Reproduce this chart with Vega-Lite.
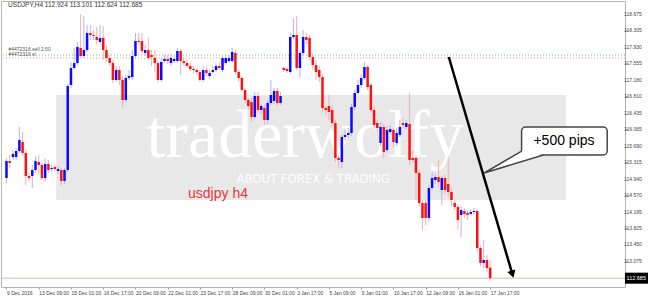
{
"$schema":"https://vega.github.io/schema/vega-lite/v6.json",
"width":624,"height":286,"autosize":"none",
"padding":{"left":1,"top":1,"right":23,"bottom":9},
"background":"white",
"config":{"view":{"stroke":"#b4b4b4","strokeWidth":1},"axis":{"grid":false,"labelOverlap":false}},
"datasets":{
"ylab":[{"p":118.675},{"p":118.305},{"p":117.93},{"p":117.555},{"p":117.18},{"p":116.81},{"p":116.435},{"p":116.065},{"p":115.69},{"p":115.315},{"p":114.94},{"p":114.57},{"p":114.195},{"p":113.825},{"p":113.45},{"p":113.075}],
"c":[
{"i":0,"o":114.957,"h":115.41,"l":114.843,"c":115.341},
{"i":1,"o":115.341,"h":115.478,"l":115.183,"c":115.296},
{"i":2,"o":115.432,"h":115.591,"l":115.364,"c":115.5},
{"i":3,"o":115.432,"h":115.636,"l":115.364,"c":115.568},
{"i":4,"o":115.568,"h":116.113,"l":115.523,"c":115.818},
{"i":5,"o":115.772,"h":115.999,"l":115.455,"c":115.523},
{"i":6,"o":115.523,"h":115.591,"l":114.798,"c":115.002},
{"i":7,"o":115.002,"h":115.092,"l":114.866,"c":114.957},
{"i":8,"o":115.002,"h":115.251,"l":114.73,"c":115.138},
{"i":9,"o":115.138,"h":115.455,"l":115.07,"c":115.341},
{"i":10,"o":115.319,"h":115.478,"l":115.024,"c":115.251},
{"i":11,"o":115.251,"h":115.319,"l":114.911,"c":114.957},
{"i":12,"o":114.957,"h":115.41,"l":114.866,"c":115.274},
{"i":13,"o":115.274,"h":115.364,"l":115.07,"c":115.138},
{"i":14,"o":115.16,"h":115.251,"l":115.092,"c":115.183},
{"i":15,"o":115.206,"h":115.251,"l":115.115,"c":115.16},
{"i":16,"o":115.115,"h":115.228,"l":115.047,"c":115.16},
{"i":17,"o":115.138,"h":115.183,"l":114.775,"c":114.888},
{"i":18,"o":114.888,"h":115.183,"l":114.82,"c":115.138},
{"i":19,"o":115.138,"h":117.088,"l":115.092,"c":117.042},
{"i":20,"o":117.065,"h":117.587,"l":116.997,"c":117.451},
{"i":21,"o":117.451,"h":117.904,"l":117.405,"c":117.564},
{"i":22,"o":117.564,"h":118.04,"l":117.519,"c":117.927},
{"i":23,"o":117.904,"h":118.675,"l":117.677,"c":117.723},
{"i":24,"o":117.723,"h":118.63,"l":117.677,"c":117.859},
{"i":25,"o":117.859,"h":118.426,"l":117.813,"c":118.244},
{"i":26,"o":118.244,"h":118.426,"l":118.085,"c":118.199},
{"i":27,"o":118.199,"h":118.312,"l":118.085,"c":118.176},
{"i":28,"o":118.154,"h":118.38,"l":117.972,"c":118.085},
{"i":29,"o":118.04,"h":118.426,"l":117.995,"c":118.131},
{"i":30,"o":118.131,"h":118.403,"l":117.632,"c":117.859},
{"i":31,"o":117.859,"h":117.972,"l":117.587,"c":117.677},
{"i":32,"o":117.677,"h":117.745,"l":117.496,"c":117.564},
{"i":33,"o":117.564,"h":117.632,"l":117.11,"c":117.178},
{"i":34,"o":117.178,"h":117.496,"l":117.133,"c":117.405},
{"i":35,"o":117.405,"h":117.496,"l":117.065,"c":117.178},
{"i":36,"o":117.178,"h":117.269,"l":116.543,"c":116.725},
{"i":37,"o":116.725,"h":117.292,"l":116.68,"c":117.224},
{"i":38,"o":117.224,"h":117.405,"l":117.178,"c":117.269},
{"i":39,"o":117.246,"h":117.859,"l":117.178,"c":117.723},
{"i":40,"o":117.723,"h":118.244,"l":117.677,"c":118.063},
{"i":41,"o":118.063,"h":118.244,"l":117.972,"c":118.04},
{"i":42,"o":118.063,"h":118.244,"l":117.791,"c":117.836},
{"i":43,"o":117.791,"h":117.972,"l":117.723,"c":117.859},
{"i":44,"o":117.859,"h":118.131,"l":117.632,"c":117.677},
{"i":45,"o":117.745,"h":117.859,"l":117.496,"c":117.7},
{"i":46,"o":117.677,"h":117.859,"l":117.36,"c":117.564},
{"i":47,"o":117.564,"h":117.632,"l":117.133,"c":117.178},
{"i":48,"o":117.178,"h":117.677,"l":117.133,"c":117.587},
{"i":49,"o":117.609,"h":117.745,"l":117.564,"c":117.655},
{"i":50,"o":117.655,"h":117.745,"l":117.541,"c":117.609},
{"i":51,"o":117.564,"h":117.768,"l":117.496,"c":117.677},
{"i":52,"o":117.609,"h":117.723,"l":117.564,"c":117.655},
{"i":53,"o":117.609,"h":117.904,"l":117.564,"c":117.836},
{"i":54,"o":117.836,"h":117.881,"l":117.292,"c":117.609},
{"i":55,"o":117.609,"h":117.677,"l":117.496,"c":117.564},
{"i":56,"o":117.564,"h":117.632,"l":117.451,"c":117.496},
{"i":57,"o":117.496,"h":117.564,"l":117.383,"c":117.428},
{"i":58,"o":117.428,"h":117.496,"l":117.337,"c":117.405},
{"i":59,"o":117.405,"h":117.451,"l":117.292,"c":117.36},
{"i":60,"o":117.36,"h":117.405,"l":117.133,"c":117.178},
{"i":61,"o":117.178,"h":117.496,"l":117.133,"c":117.405},
{"i":62,"o":117.405,"h":117.496,"l":117.269,"c":117.337},
{"i":63,"o":117.269,"h":117.405,"l":117.201,"c":117.337},
{"i":64,"o":117.36,"h":117.496,"l":117.314,"c":117.405},
{"i":65,"o":117.405,"h":117.564,"l":117.36,"c":117.496},
{"i":66,"o":117.496,"h":117.587,"l":117.405,"c":117.451},
{"i":67,"o":117.405,"h":117.723,"l":117.36,"c":117.677},
{"i":68,"o":117.564,"h":117.745,"l":117.519,"c":117.677},
{"i":69,"o":117.609,"h":117.745,"l":117.564,"c":117.677},
{"i":70,"o":117.609,"h":117.904,"l":117.564,"c":117.813},
{"i":71,"o":117.791,"h":117.859,"l":117.314,"c":117.36},
{"i":72,"o":117.36,"h":117.405,"l":117.133,"c":117.224},
{"i":73,"o":117.224,"h":117.269,"l":116.906,"c":116.952},
{"i":74,"o":116.952,"h":116.997,"l":116.657,"c":116.725},
{"i":75,"o":116.725,"h":116.77,"l":116.498,"c":116.589},
{"i":76,"o":116.68,"h":116.77,"l":116.226,"c":116.339},
{"i":77,"o":116.339,"h":116.906,"l":116.294,"c":116.816},
{"i":78,"o":116.816,"h":116.906,"l":116.43,"c":116.498},
{"i":79,"o":116.498,"h":116.634,"l":116.407,"c":116.589},
{"i":80,"o":116.543,"h":116.634,"l":116.158,"c":116.271},
{"i":81,"o":116.271,"h":116.725,"l":116.181,"c":116.657},
{"i":82,"o":116.657,"h":117.178,"l":116.612,"c":116.838},
{"i":83,"o":116.702,"h":116.997,"l":116.634,"c":116.929},
{"i":84,"o":116.929,"h":116.997,"l":116.589,"c":116.657},
{"i":85,"o":116.657,"h":116.906,"l":116.612,"c":116.816},
{"i":86,"o":117.451,"h":117.496,"l":117.36,"c":117.405},
{"i":87,"o":117.428,"h":117.473,"l":117.337,"c":117.383},
{"i":88,"o":117.36,"h":118.244,"l":117.314,"c":118.154},
{"i":89,"o":118.154,"h":118.584,"l":118.108,"c":118.199},
{"i":90,"o":118.199,"h":118.63,"l":117.405,"c":117.451},
{"i":91,"o":117.451,"h":117.859,"l":117.224,"c":117.791},
{"i":92,"o":117.791,"h":118.312,"l":117.723,"c":118.154},
{"i":93,"o":118.154,"h":118.244,"l":117.995,"c":118.085},
{"i":94,"o":118.131,"h":118.199,"l":117.632,"c":117.7},
{"i":95,"o":117.7,"h":117.768,"l":117.405,"c":117.519},
{"i":96,"o":117.519,"h":117.632,"l":117.178,"c":117.36},
{"i":97,"o":117.405,"h":117.496,"l":117.133,"c":117.246},
{"i":98,"o":117.246,"h":117.314,"l":116.453,"c":116.543},
{"i":99,"o":116.543,"h":116.589,"l":116.385,"c":116.498},
{"i":100,"o":116.589,"h":116.838,"l":116.271,"c":116.453},
{"i":101,"o":116.498,"h":116.612,"l":116.135,"c":116.203},
{"i":102,"o":116.203,"h":116.271,"l":115.319,"c":115.41},
{"i":103,"o":115.41,"h":115.478,"l":115.183,"c":115.364},
{"i":104,"o":115.319,"h":115.931,"l":115.183,"c":115.886},
{"i":105,"o":115.886,"h":116.045,"l":115.818,"c":115.931},
{"i":106,"o":115.931,"h":116.09,"l":115.863,"c":115.977},
{"i":107,"o":115.977,"h":116.634,"l":115.908,"c":116.566},
{"i":108,"o":116.566,"h":116.952,"l":116.498,"c":116.884},
{"i":109,"o":116.884,"h":117.178,"l":116.838,"c":117.065},
{"i":110,"o":117.065,"h":117.314,"l":116.997,"c":117.224},
{"i":111,"o":117.224,"h":117.587,"l":117.178,"c":117.473},
{"i":112,"o":117.473,"h":117.519,"l":116.952,"c":117.02},
{"i":113,"o":117.065,"h":117.11,"l":116.43,"c":116.498},
{"i":114,"o":116.498,"h":116.589,"l":116.09,"c":116.158},
{"i":115,"o":116.203,"h":116.271,"l":115.999,"c":116.09},
{"i":116,"o":115.75,"h":116.226,"l":115.682,"c":116.113},
{"i":117,"o":116.113,"h":116.181,"l":115.41,"c":115.546},
{"i":118,"o":115.591,"h":116.135,"l":115.523,"c":116.045},
{"i":119,"o":115.999,"h":116.158,"l":115.954,"c":116.067},
{"i":120,"o":116.045,"h":116.09,"l":115.659,"c":115.772},
{"i":121,"o":115.75,"h":116.09,"l":115.682,"c":115.977},
{"i":122,"o":115.931,"h":116.271,"l":115.886,"c":116.113},
{"i":123,"o":116.203,"h":116.317,"l":116.09,"c":116.158},
{"i":124,"o":116.113,"h":116.271,"l":116.067,"c":116.203},
{"i":125,"o":116.181,"h":116.884,"l":115.251,"c":115.364},
{"i":126,"o":115.41,"h":115.591,"l":115.296,"c":115.364},
{"i":127,"o":115.41,"h":115.478,"l":114.457,"c":115.07},
{"i":128,"o":115.07,"h":115.138,"l":114.321,"c":114.389},
{"i":129,"o":114.389,"h":114.457,"l":113.777,"c":114.049},
{"i":130,"o":114.389,"h":114.457,"l":113.891,"c":114.049},
{"i":131,"o":114.049,"h":114.798,"l":113.959,"c":114.73},
{"i":132,"o":114.73,"h":115.092,"l":114.684,"c":114.957},
{"i":133,"o":114.911,"h":115.047,"l":114.82,"c":114.979},
{"i":134,"o":114.979,"h":115.364,"l":114.73,"c":114.866},
{"i":135,"o":114.684,"h":115.002,"l":114.344,"c":114.957},
{"i":136,"o":114.957,"h":115.024,"l":114.593,"c":114.684},
{"i":137,"o":114.82,"h":115.432,"l":114.548,"c":114.639},
{"i":138,"o":114.639,"h":114.73,"l":114.344,"c":114.457},
{"i":139,"o":114.389,"h":114.457,"l":114.231,"c":114.299},
{"i":140,"o":114.299,"h":114.367,"l":113.777,"c":114.004},
{"i":141,"o":114.117,"h":114.321,"l":113.618,"c":114.231},
{"i":142,"o":114.208,"h":114.276,"l":114.049,"c":114.14},
{"i":143,"o":114.163,"h":114.231,"l":114.004,"c":114.117},
{"i":144,"o":114.14,"h":114.253,"l":114.095,"c":114.185},
{"i":145,"o":114.185,"h":114.276,"l":114.14,"c":114.208},
{"i":146,"o":114.208,"h":114.253,"l":113.278,"c":113.369},
{"i":147,"o":113.369,"h":113.437,"l":112.961,"c":113.029},
{"i":148,"o":113.029,"h":113.55,"l":112.915,"c":113.097},
{"i":149,"o":113.097,"h":113.21,"l":112.825,"c":112.915},
{"i":150,"o":112.924,"h":113.101,"l":112.624,"c":112.685}
]},
"layer":[
{"data":{"values":[{"x1":15.41,"x2":173.5,"y1":116.838,"y2":114.457}]},
 "mark":{"type":"rect","fill":"#e8e8e8"},
 "encoding":{"x":{"field":"x1","type":"quantitative","title":null,"scale":{"domain":[-0.15,190.27],"nice":false,"zero":false}},"x2":{"field":"x2"},
  "y":{"field":"y1","type":"quantitative","title":null,"scale":{"domain":[112.485,118.97],"nice":false,"zero":false}},"y2":{"field":"y2"}}},
{"data":{"values":[{"i":92.6,"p":115.432,"t":"traderwolfy"}]},
 "mark":{"type":"text","font":"Liberation Serif","fontSize":68,"color":"#ffffff","align":"center","baseline":"alphabetic"},
 "encoding":{"x":{"field":"i","type":"quantitative","title":null},"y":{"field":"p","type":"quantitative","title":null},"text":{"field":"t"}}},
{"data":{"values":[{"i":95.1,"p":114.84,"t":"ABOUT FOREX & TRADING"}]},
 "mark":{"type":"text","font":"'Liberation Sans Narrow', 'DejaVu Sans Condensed', sans-serif","fontSize":13,"color":"#ffffff","align":"center","baseline":"alphabetic"},
 "encoding":{"x":{"field":"i","type":"quantitative","title":null},"y":{"field":"p","type":"quantitative","title":null},"text":{"field":"t"}}},
{"data":{"values":[{"i":56.3,"p":114.5,"t":"usdjpy h4"}]},
 "mark":{"type":"text","font":"Liberation Sans","fontSize":14,"color":"#e8353a","align":"left","baseline":"alphabetic"},
 "encoding":{"x":{"field":"i","type":"quantitative","title":null},"y":{"field":"p","type":"quantitative","title":null},"text":{"field":"t"}}},
{"data":{"values":[{"p":117.745,"k":"sell"},{"p":117.677,"k":"sl"}]},
 "mark":{"type":"rule","strokeDash":[1,2],"strokeWidth":1},
 "encoding":{"y":{"field":"p","type":"quantitative","title":null},"color":{"condition":{"test":"datum.k=='sell'","value":"#7fbf7f"},"value":"#e89a9a"}}},
{"data":{"values":[{"i":0.6,"p":117.825,"t":"#4472316 sell 2.50"},{"i":0.6,"p":117.72,"t":"#4472316 sl"}]},
 "mark":{"type":"text","font":"Liberation Sans","fontSize":5,"color":"#555555","align":"left","baseline":"alphabetic"},
 "encoding":{"x":{"field":"i","type":"quantitative","title":null},"y":{"field":"p","type":"quantitative","title":null},"text":{"field":"t"}}},
{"data":{"values":[{"p":112.685}]},
 "mark":{"type":"rule","color":"#e2b8a0","strokeWidth":1},
 "encoding":{"y":{"field":"p","type":"quantitative","title":null}}},
{"data":{"name":"c"},
 "mark":{"type":"rule","strokeWidth":1},
 "encoding":{"x":{"field":"i","type":"quantitative","title":null},"y":{"field":"l","type":"quantitative","title":null},"y2":{"field":"h"},
  "color":{"condition":{"test":"datum.c > datum.o","value":"#b4b4f2"},"value":"#f2b0b0"}}},
{"data":{"name":"c"},
 "mark":{"type":"bar","width":2.5},
 "encoding":{"x":{"field":"i","type":"quantitative","title":null,
   "axis":{"values":[0,10,20,30,40,50,60,70,80,90,100,110,120,130,140,150],"title":null,"grid":false,"domain":false,"ticks":true,"tickSize":2,"tickColor":"#999999","labelFontSize":5,"labelFont":"Liberation Sans","labelColor":"#444444","labelAlign":"left","labelPadding":1,"labelOverlap":false,"labelFlush":false,
   "labelExpr":"['9 Dec 2016','13 Dec 09:00','15 Dec 01:00','16 Dec 17:00','20 Dec 09:00','22 Dec 01:00','23 Dec 17:00','28 Dec 09:00','30 Dec 01:00','3 Jan 17:00','5 Jan 09:00','9 Jan 01:00','10 Jan 17:00','12 Jan 09:00','16 Jan 01:00','17 Jan 17:00'][round(datum.value/10)]"}},
  "y":{"field":"o","type":"quantitative","title":null,
   "axis":{"orient":"right","values":[118.675,118.305,117.93,117.555,117.18,116.81,116.435,116.065,115.69,115.315,114.94,114.57,114.195,113.825,113.45,113.075],"title":null,"grid":false,"domain":false,"ticks":true,"tickSize":2,"tickColor":"#999999","labels":false}},
  "y2":{"field":"c"},
  "color":{"condition":{"test":"datum.c > datum.o","value":"#0a0aff"},"value":"#ff1010"}}},
{"data":{"name":"ylab"},
 "mark":{"type":"text","font":"Liberation Sans","fontSize":5,"color":"#444444","align":"left","baseline":"middle","dx":2},
 "encoding":{"x":{"datum":190.9,"type":"quantitative","title":null},"y":{"field":"p","type":"quantitative","title":null},"text":{"field":"p","type":"quantitative","format":".3f"}}},
{"data":{"values":[{"i":137.17,"p":117.7},{"i":156.9,"p":112.775}]},
 "mark":{"type":"line","color":"#000000","strokeWidth":2.5},
 "encoding":{"x":{"field":"i","type":"quantitative","title":null},"y":{"field":"p","type":"quantitative","title":null}}},
{"data":{"values":[{"i":156.9,"p":112.775}]},
 "mark":{"type":"point","shape":"triangle-down","filled":true,"color":"#000000","size":70,"angle":-16.6,"opacity":1},
 "encoding":{"x":{"field":"i","type":"quantitative","title":null},"y":{"field":"p","type":"quantitative","title":null}}},
{"data":{"values":[{"x1":159.75,"x2":186.3,"y1":116.113,"y2":115.478}]},
 "mark":{"type":"rect","fill":"#ffffff","stroke":"#454545","strokeWidth":1.5,"cornerRadius":4},
 "encoding":{"x":{"field":"x1","type":"quantitative","title":null},"x2":{"field":"x2"},"y":{"field":"y1","type":"quantitative","title":null},"y2":{"field":"y2"}}},
{"data":{"values":[{"i":148.15,"t":115.07,"b":115.07},{"i":159.75,"t":115.568,"b":115.34},{"i":166.5,"t":115.478,"b":115.478}]},
 "mark":{"type":"area","color":"#ffffff","opacity":1},
 "encoding":{"x":{"field":"i","type":"quantitative","title":null},"y":{"field":"t","type":"quantitative","title":null},"y2":{"field":"b"}}},
{"data":{"values":[{"k":0,"i":166.5,"p":115.478},{"k":1,"i":148.15,"p":115.07},{"k":2,"i":159.75,"p":115.568}]},
 "mark":{"type":"line","color":"#454545","strokeWidth":1.5},
 "encoding":{"x":{"field":"i","type":"quantitative","title":null},"y":{"field":"p","type":"quantitative","title":null},"order":{"field":"k"}}},
{"data":{"values":[{"i":172.9,"p":115.795,"t":"+500 pips"}]},
 "mark":{"type":"text","font":"Liberation Sans","fontSize":14,"color":"#000000","align":"center","baseline":"middle"},
 "encoding":{"x":{"field":"i","type":"quantitative","title":null},"y":{"field":"p","type":"quantitative","title":null},"text":{"field":"t"}}},
{"data":{"values":[{"i":0.5,"p":118.89,"t":"USDJPY,H4  112.924 113.101 112.624 112.685"}]},
 "mark":{"type":"text","font":"Liberation Sans","fontSize":6.5,"color":"#333333","align":"left","baseline":"middle"},
 "encoding":{"x":{"field":"i","type":"quantitative","title":null},"y":{"field":"p","type":"quantitative","title":null},"text":{"field":"t"}}},
{"data":{"values":[{"x1":191.8,"x2":199,"y1":112.81,"y2":112.56}]},
 "mark":{"type":"rect","fill":"#000000"},
 "encoding":{"x":{"field":"x1","type":"quantitative","title":null},"x2":{"field":"x2"},"y":{"field":"y1","type":"quantitative","title":null},"y2":{"field":"y2"}}},
{"data":{"values":[{"i":195.3,"p":112.685,"t":"112.685"}]},
 "mark":{"type":"text","font":"Liberation Sans","fontSize":5.5,"color":"#ffffff","align":"center","baseline":"middle"},
 "encoding":{"x":{"field":"i","type":"quantitative","title":null},"y":{"field":"p","type":"quantitative","title":null},"text":{"field":"t"}}}
]
}
